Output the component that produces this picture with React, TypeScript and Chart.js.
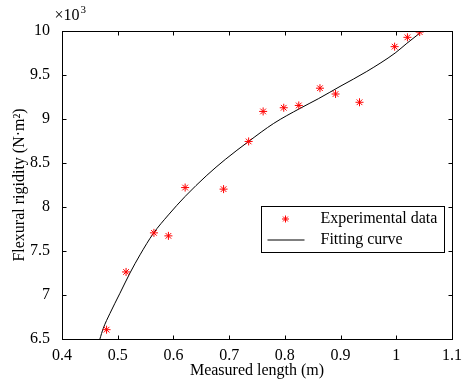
import React, { useEffect, useRef } from "react";
import { Chart, registerables } from "chart.js";

Chart.register(...registerables);

const measuredLength = [0.48, 0.515, 0.565, 0.591, 0.621, 0.69, 0.735, 0.761, 0.798, 0.825, 0.863, 0.891, 0.934, 0.997, 1.02, 1.042];
const flexuralRigidity = [6606, 7262, 7706, 7672, 8221, 8203, 8745, 9086, 9128, 9154, 9350, 9284, 9190, 9822, 9928, 9988];

const fitLength = [0.468, 0.474, 0.486, 0.504, 0.522, 0.54, 0.564, 0.591, 0.621, 0.66, 0.693, 0.735, 0.78, 0.827, 0.86, 0.899, 0.947, 0.998, 1.019, 1.043];
const fitRigidity = [6500, 6620, 6790, 7020, 7250, 7456, 7700, 7910, 8120, 8360, 8540, 8745, 8950, 9120, 9230, 9370, 9540, 9750, 9860, 9980];

const xTicks = [0.4, 0.5, 0.6, 0.7, 0.8, 0.9, 1.0, 1.1];
const yTicks = [6500, 7000, 7500, 8000, 8500, 9000, 9500, 10000];

const legendLabels = ["Experimental data", "Fitting curve"];
const FONT = "'Liberation Serif', 'Times New Roman', serif";

const framePlugin = {
  id: "frame",
  afterDraw(chart: any) {
    const { ctx, chartArea, scales } = chart;
    const { left, right, top, bottom } = chartArea;
    ctx.save();
    ctx.strokeStyle = "#000";
    ctx.lineWidth = 1;
    const L = Math.round(left) + 0.5;
    const R = Math.round(right) + 0.5;
    const T = Math.round(top) + 0.5;
    const B = Math.round(bottom) + 0.5;
    ctx.strokeRect(L, T, R - L, B - T);
    const tl = 4;
    ctx.beginPath();
    xTicks.forEach((v) => {
      const px = Math.round(scales.x.getPixelForValue(v)) + 0.5;
      ctx.moveTo(px, B);
      ctx.lineTo(px, B - tl);
      ctx.moveTo(px, T);
      ctx.lineTo(px, T + tl);
    });
    yTicks.forEach((v) => {
      const py = Math.round(scales.y.getPixelForValue(v)) + 0.5;
      ctx.moveTo(L, py);
      ctx.lineTo(L + tl, py);
      ctx.moveTo(R, py);
      ctx.lineTo(R - tl, py);
    });
    ctx.stroke();

    // exponent label
    ctx.fillStyle = "#000";
    ctx.textBaseline = "alphabetic";
    ctx.textAlign = "left";
    ctx.font = `16px ${FONT}`;
    ctx.fillText("\u00d710", L - 8, 20);
    const w = ctx.measureText("\u00d710").width;
    ctx.font = `11px ${FONT}`;
    ctx.fillText("3", L - 8 + w + 1, 13);

    // legend
    const bw = 183;
    const bh = 46;
    const bx = Math.round(right) - 8 - bw + 0.5;
    const by = Math.round(top) + 175.5;
    ctx.fillStyle = "#fff";
    ctx.fillRect(bx, by, bw, bh);
    ctx.strokeStyle = "#000";
    ctx.strokeRect(bx, by, bw, bh);
    const ds0 = chart.data.datasets[0];
    const y1 = by + 12.5;
    const y2 = by + 33.5;
    const sx = bx + 24;
    ctx.strokeStyle = ds0.borderColor;
    ctx.beginPath();
    const r = 3.5;
    ctx.moveTo(sx - r, y1);
    ctx.lineTo(sx + r, y1);
    ctx.moveTo(sx, y1 - r);
    ctx.lineTo(sx, y1 + r);
    const d = r * 0.7;
    ctx.moveTo(sx - d, y1 - d);
    ctx.lineTo(sx + d, y1 + d);
    ctx.moveTo(sx - d, y1 + d);
    ctx.lineTo(sx + d, y1 - d);
    ctx.stroke();
    ctx.strokeStyle = "#000";
    ctx.beginPath();
    ctx.moveTo(bx + 6, y2);
    ctx.lineTo(bx + 43, y2);
    ctx.stroke();
    ctx.fillStyle = "#000";
    ctx.font = `16px ${FONT}`;
    ctx.textBaseline = "middle";
    ctx.fillText(legendLabels[0], bx + 59, y1);
    ctx.fillText(legendLabels[1], bx + 59, y2);
    ctx.restore();
  },
};

export default function App() {
  const ref = useRef<HTMLCanvasElement>(null);
  useEffect(() => {
    if (!ref.current) return;
    const chart = new Chart(ref.current, {
      type: "scatter",
      data: {
        datasets: [
          {
            label: legendLabels[0],
            data: measuredLength.map((x, i) => ({ x, y: flexuralRigidity[i] })),
            pointStyle: "star",
            pointRadius: 4,
            pointBorderWidth: 1,
            borderColor: "#ff0000",
            backgroundColor: "#ff0000",
            showLine: false,
            order: 0,
          },
          {
            label: legendLabels[1],
            data: fitLength.map((x, i) => ({ x, y: fitRigidity[i] })),
            showLine: true,
            borderColor: "#000",
            borderWidth: 1,
            pointRadius: 0,
            cubicInterpolationMode: "monotone",
            order: 1,
          },
        ],
      },
      options: {
        animation: false,
        responsive: false,
        layout: { padding: { top: 31, right: 20, left: 0, bottom: 0 } },
        plugins: { legend: { display: false }, tooltip: { enabled: false } },
        scales: {
          x: {
            type: "linear",
            min: 0.4,
            max: 1.1,
            afterFit: (s: any) => {
              s.height = 41;
            },
            afterBuildTicks: (s: any) => {
              s.ticks = xTicks.map((v) => ({ value: v }));
            },
            grid: { display: false },
            border: { display: false },
            ticks: {
              color: "#000",
              font: { family: FONT, size: 16 },
              padding: -1,
              callback: (v: any) => String(Number(Number(v).toFixed(1))),
            },
            title: {
              display: true,
              text: "Measured length (m)",
              color: "#000",
              font: { family: FONT, size: 16 },
              padding: { top: 0, bottom: 0 },
            },
          },
          y: {
            type: "linear",
            min: 6500,
            max: 10000,
            afterFit: (s: any) => {
              s.width = 62;
            },
            afterBuildTicks: (s: any) => {
              s.ticks = yTicks.map((v) => ({ value: v }));
            },
            grid: { display: false },
            border: { display: false },
            ticks: {
              color: "#000",
              font: { family: FONT, size: 16 },
              padding: 4,
              callback: (v: any) => String(Number(v) / 1000),
            },
            title: {
              display: true,
              text: "Flexural rigidity (N\u00b7m\u00b2)",
              color: "#000",
              font: { family: FONT, size: 16 },
              padding: { top: 10, bottom: 0 },
            },
          },
        },
      },
      plugins: [framePlugin],
    });
    return () => chart.destroy();
  }, []);
  return (
    <div style={{ position: "fixed", left: 0, top: 0, width: 472, height: 380, background: "#fff" }}>
      <canvas ref={ref} width={472} height={380} style={{ display: "block" }} />
    </div>
  );
}
